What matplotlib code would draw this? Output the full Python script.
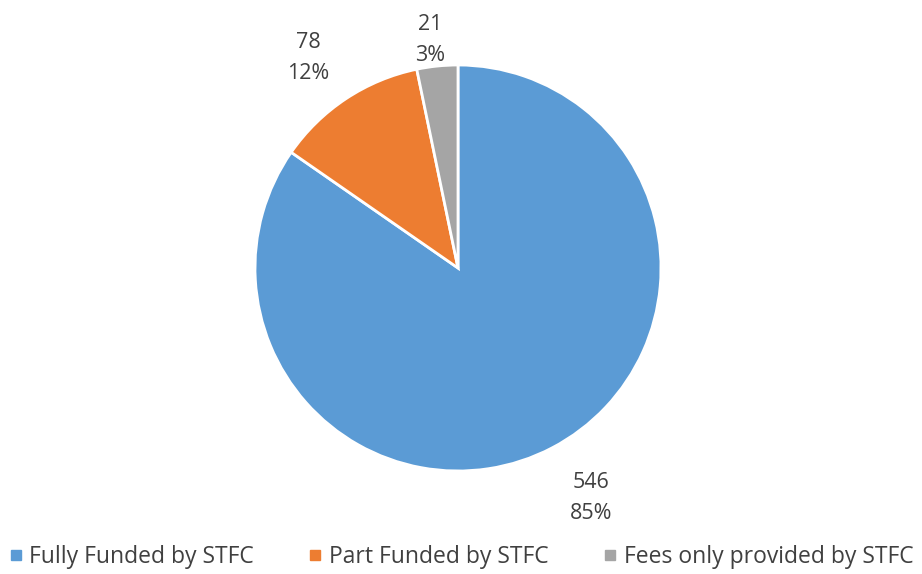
import numpy as np
import matplotlib
matplotlib.use("Agg")
import matplotlib.pyplot as plt
from matplotlib.lines import Line2D

# data
categories = ["Fully Funded by STFC", "Part Funded by STFC", "Fees only provided by STFC"]
counts = [546, 78, 21]
colours = ["#5B9BD5", "#ED7D31", "#A5A5A5"]

plt.rcParams["font.family"] = ["Open Sans", "DejaVu Sans"]
txt_col = "#404040"

fig = plt.figure(figsize=(9.22, 5.74), dpi=100)
# pie centre ~ (458, 268) px, radius ~203 px
ax = fig.add_axes([(458 - 203) / 922, (574 - 471) / 574, 406 / 922, 406 / 574])

total = sum(counts)
wedges, _ = ax.pie(counts, colors=colours, startangle=90, counterclock=False,
                   wedgeprops=dict(edgecolor="white", linewidth=2))
ax.set_xlim(-1, 1)
ax.set_ylim(-1, 1)
ax.set_aspect("equal")
ax.axis("off")

# data labels outside the slices
dist = [1.31, 1.27, 1.13]
shift = [2.5, 2, 1]  # small angular nudge, degrees
for w, n, d, s in zip(wedges, counts, dist, shift):
    ang = np.deg2rad((w.theta1 + w.theta2) / 2 + s)
    pct = round(100 * n / total)
    ax.text(d * np.cos(ang), d * np.sin(ang), f"{n}\n{pct}%",
            ha="center", va="center", fontsize=15.5, color=txt_col,
            linespacing=1.6, clip_on=False)

handles = [Line2D([], [], marker="s", linestyle="none", markersize=7.5,
                  markerfacecolor=c, markeredgecolor=c) for c in colours]
fig.legend(handles, categories, loc="center", bbox_to_anchor=(0.5, 1 - 557 / 574),
           ncol=3, frameon=False, fontsize=16.5, labelcolor=txt_col,
           handletextpad=0.31, columnspacing=2.36, handlelength=0.6,
           borderpad=0, borderaxespad=0)

fig.savefig("out.png", dpi=100)
